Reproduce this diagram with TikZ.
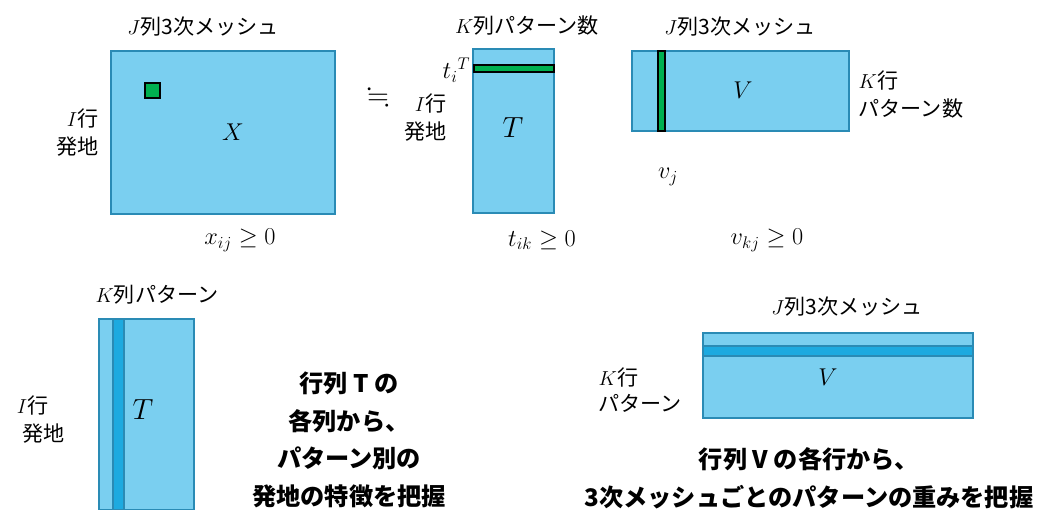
\documentclass[tikz,border=0pt]{standalone}
\usepackage{amssymb}
\usepackage{fontspec}
\setmainfont{Noto Sans CJK JP}
\usetikzlibrary{positioning}
\definecolor{matfill}{HTML}{7ACFF0}
\definecolor{matedge}{HTML}{2A8BB5}
\definecolor{stripe}{HTML}{1DAAE0}
\definecolor{pick}{HTML}{00B050}

\begin{document}
\begin{tikzpicture}[x=0.025cm,y=-0.025cm,
    mat/.style={draw=matedge,fill=matfill,line width=1.2pt},
    band/.style={draw=matedge,fill=stripe,line width=1.2pt},
    elem/.style={draw=black,fill=pick,line width=1.5pt},
    lbl/.style={font=\fontsize{15}{18}\selectfont,inner sep=1pt},
    big/.style={font=\fontsize{17}{20}\selectfont,inner sep=1pt},
    note/.style={font=\fontsize{17.2}{26.8}\selectfont\bfseries,align=center}]
    \useasboundingbox (0,0) rectangle (1038,509);

    % X = T V
    \path[mat](111,51)rectangle(335,214);
    \path[elem](145,83)rectangle(160,98);
    \node[big,font=\fontsize{18}{20}\selectfont](X)at(233,132){$X$};
    \node[lbl](Xcol)at(203,27){$J$列3次メッシュ};
    \node[lbl,anchor=east](Xrow)at(100,118){$I$行};
    \node[lbl,anchor=east](Xorg)at(100,147){発地};
    \node[big](Xcond)at(240,240){$x_{ij}\geq 0$};

    \node[lbl,font=\fontsize{20}{22}\selectfont](approx)at(378,97){$\fallingdotseq$};

    \path[mat](473,49)rectangle(554,213);
    \path[elem](474,65)rectangle(554,72);
    \node[big,font=\fontsize{20}{22}\selectfont](T)at(513,128){$T$};
    \node[big,anchor=east](ti)at(472,70){$t_i{}^T$};
    \node[lbl](Tcol)at(527,25){$K$列パターン数};
    \node[lbl,anchor=east](Trow)at(448,103){$I$行};
    \node[lbl,anchor=east](Torg)at(448,132){発地};
    \node[big](Tcond)at(542,240){$t_{ik}\geq 0$};

    \path[mat](632,51)rectangle(849,131);
    \path[elem](658,51)rectangle(665,131);
    \node[big,font=\fontsize{19}{22}\selectfont](V)at(743,90){$V$};
    \node[lbl](Vcol)at(740,27){$J$列3次メッシュ};
    \node[lbl,anchor=west](Vrow)at(857,80){$K$行};
    \node[lbl,anchor=west](Vpat)at(857,108){パターン数};
    \node[big](vj)at(668,177){$v_j$};
    \node[big](Vcond)at(767,240){$v_{kj}\geq 0$};

    % columns of T
    \path[mat](99,319)rectangle(194,510);
    \path[band](113,319)rectangle(124,510);
    \node[big,font=\fontsize{20}{22}\selectfont](T2)at(143,410){$T$};
    \node[lbl](T2col)at(157,295){$K$列パターン};
    \node[lbl,anchor=east](T2row)at(50,405){$I$行};
    \node[lbl,anchor=east](T2org)at(66,434){発地};
    \node[note](Tnote)at(349,440){行列 T の\\各列から、\\パターン別の\\発地の特徴を把握};

    % rows of V
    \path[mat](703,333)rectangle(973,418);
    \path[band](703,346)rectangle(973,356);
    \node[big,font=\fontsize{19}{22}\selectfont](V2)at(828,377){$V$};
    \node[lbl](V2col)at(847,307){$J$列3次メッシュ};
    \node[lbl,anchor=west](V2row)at(597,377){$K$行};
    \node[lbl,anchor=west](V2pat)at(597,403){パターン};
    \node[note](Vnote)at(809,478){行列 V の各行から、\\3次メッシュごとのパターンの重みを把握};
\end{tikzpicture}
\end{document}
